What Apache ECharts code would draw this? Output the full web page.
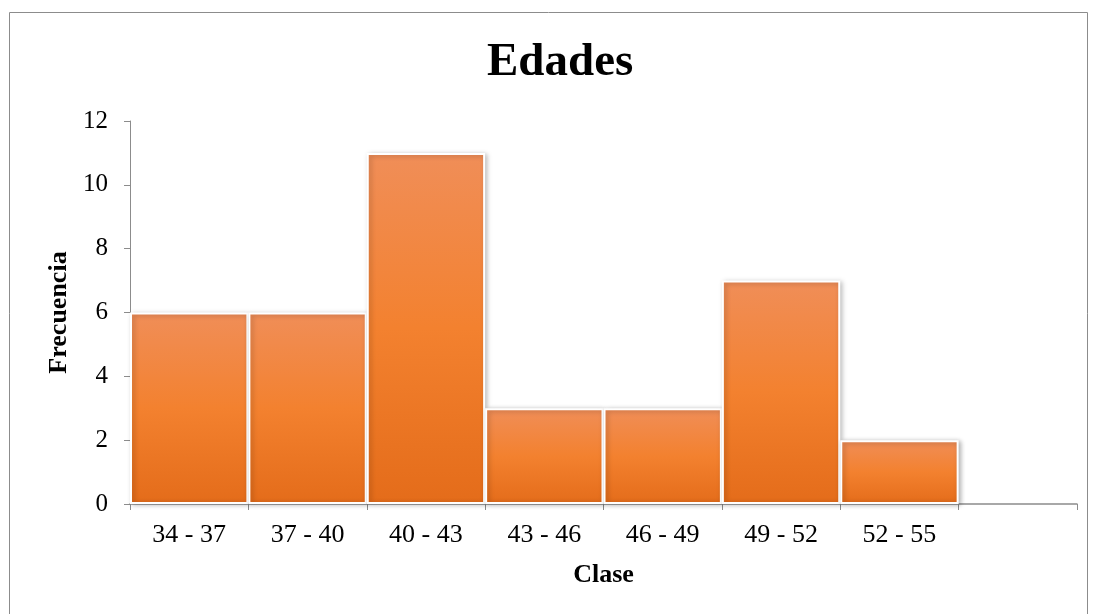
<!DOCTYPE html>
<html>
<head>
<meta charset="utf-8">
<script src="https://cdn.jsdelivr.net/npm/echarts@6/dist/echarts.min.js"></script>
<style>
  html, body { margin: 0; padding: 0; background: #fff; }
  #chart { width: 1095px; height: 614px; }
</style>
</head>
<body>
<div id="chart"></div>
<script>
// datos del histograma
const clases = ['34 - 37', '37 - 40', '40 - 43', '43 - 46', '46 - 49', '49 - 52', '52 - 55', '']
const frecuencias = [6, 6, 11, 3, 3, 7, 2, null]
const yTicks = [0, 2, 4, 6, 8, 10, 12]

const fuente = '"Liberation Serif", "Times New Roman", serif'
const chart = echarts.init(document.getElementById('chart'))

const option = {
  animation: false,
  graphic: [
    { // marco exterior
      type: 'rect',
      shape: { x: 9.5, y: 12.5, width: 1078, height: 620 },
      style: { fill: 'none', stroke: '#8c8c8c', lineWidth: 1 },
      silent: true
    }
  ],
  title: {
    text: 'Edades',
    left: 482,
    top: 34,
    textStyle: { fontFamily: fuente, fontSize: 47, fontWeight: 'bold', color: '#000' }
  },
  grid: {
    left: 130,
    right: 18,
    top: 121,
    bottom: 110
  },
  xAxis: {
    type: 'category',
    data: clases,
    name: 'Clase',
    nameLocation: 'middle',
    nameGap: 58,
    nameTextStyle: { fontFamily: fuente, fontSize: 26, fontWeight: 'bold', color: '#000' },
    axisLine: { lineStyle: { color: '#8c8c8c', width: 1.5 } },
    axisTick: { show: true, length: 6, lineStyle: { color: '#8c8c8c' } },
    axisLabel: { fontFamily: fuente, fontSize: 26, color: '#000', margin: 18 }
  },
  yAxis: {
    type: 'value',
    min: 0,
    max: 12,
    interval: 2,
    name: 'Frecuencia',
    nameLocation: 'middle',
    nameGap: 58,
    nameTextStyle: { fontFamily: fuente, fontSize: 26, fontWeight: 'bold', color: '#000' },
    splitLine: { show: false },
    axisLine: { show: true, lineStyle: { color: '#8c8c8c' } },
    axisTick: { show: true, length: 6, lineStyle: { color: '#8c8c8c' } },
    axisLabel: {
      fontFamily: fuente, fontSize: 25, color: '#000', margin: 22,
      formatter: v => yTicks.includes(v) ? String(v) : ''
    }
  },
  series: [
    {
      type: 'bar',
      data: frecuencias,
      barCategoryGap: 0,
      itemStyle: {
        color: new echarts.graphic.LinearGradient(0, 0, 0, 1, [
          { offset: 0, color: '#F08E58' },
          { offset: 0.5, color: '#F3812F' },
          { offset: 1, color: '#E46C1A' }
        ]),
        borderColor: '#ffffff',
        borderWidth: 2,
        shadowBlur: 5,
        shadowColor: 'rgba(0,0,0,0.28)',
        shadowOffsetX: 2,
        shadowOffsetY: 1
      }
    }
  ]
}

chart.setOption(option)
</script>
</body>
</html>
